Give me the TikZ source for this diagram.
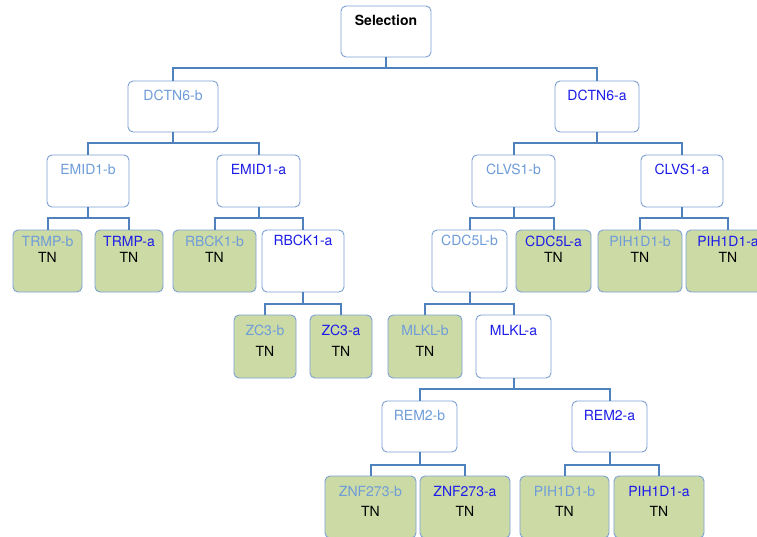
\documentclass[tikz,border=0pt]{standalone}
\usepackage{fontspec}
\setmainfont{TeX Gyre Heros}
\definecolor{linkblue}{HTML}{4F81BD}
\definecolor{edgeblue}{HTML}{7BA0D4}
\definecolor{leafgreen}{HTML}{CCDAA6}
\definecolor{bname}{HTML}{6E9CD8}
\definecolor{aname}{HTML}{1C1CE8}
\begin{document}
\begin{tikzpicture}[x=1pt,y=-1pt,
  plain/.style={draw=edgeblue, fill=white, rounded corners=5pt, line width=0.9pt, inner sep=0pt},
  leaf/.style={plain, fill=leafgreen},
  lbl/.style={anchor=base, inner sep=0pt, font=\fontsize{14}{16}\selectfont},
  bl/.style={lbl, text=bname},
  al/.style={lbl, text=aname},
  link/.style={draw=linkblue, line width=2pt}]
\useasboundingbox (0,0) rectangle (757,536);
% boxes
\node[plain, minimum width=90, minimum height=51] (sel) at (386,31.5) {};
\node[plain, minimum width=90, minimum height=51] (dctnb) at (173,106.5) {};
\node[plain, minimum width=84, minimum height=51] (dctna) at (597,106.5) {};
\node[plain, minimum width=82, minimum height=52] (emidb) at (88,181) {};
\node[plain, minimum width=83, minimum height=52] (emida) at (258.5,181) {};
\node[plain, minimum width=83, minimum height=52] (clvsb) at (513.5,181) {};
\node[plain, minimum width=82, minimum height=52] (clvsa) at (682,181) {};
\node[leaf, minimum width=69, minimum height=62] (trmpb) at (47.5,261) {};
\node[leaf, minimum width=68, minimum height=62] (trmpa) at (129,261) {};
\node[leaf, minimum width=83, minimum height=62] (rbckb) at (214.5,261) {};
\node[plain, minimum width=82, minimum height=62] (rbcka) at (303,261) {};
\node[plain, minimum width=75, minimum height=62] (cdcb) at (469.5,261) {};
\node[leaf, minimum width=75, minimum height=62] (cdca) at (553.5,261) {};
\node[leaf, minimum width=84, minimum height=62] (pihbi) at (640,261) {};
\node[leaf, minimum width=84, minimum height=62] (pihai) at (728,261) {};
\node[leaf, minimum width=62, minimum height=63] (zcb) at (265,346.5) {};
\node[leaf, minimum width=62, minimum height=63] (zca) at (341,346.5) {};
\node[leaf, minimum width=74, minimum height=63] (mlklb) at (425,346.5) {};
\node[plain, minimum width=75, minimum height=63] (mlkla) at (513.5,346.5) {};
\node[plain, minimum width=75, minimum height=51] (remb) at (419.5,426.5) {};
\node[plain, minimum width=75, minimum height=51] (rema) at (609.5,426.5) {};
\node[leaf, minimum width=91, minimum height=62] (znfb) at (370.5,507) {};
\node[leaf, minimum width=90, minimum height=62] (znfa) at (465,507) {};
\node[leaf, minimum width=89, minimum height=62] (pihbii) at (564.5,507) {};
\node[leaf, minimum width=90, minimum height=62] (pihaii) at (659,507) {};
% links
\draw[link] (sel.south) -- ++(0,11) -| (dctnb.north);
\draw[link] (sel.south) -- ++(0,11) -| (dctna.north);
\draw[link] (dctnb.south) -- ++(0,11) -| (emidb.north);
\draw[link] (dctnb.south) -- ++(0,11) -| (emida.north);
\draw[link] (dctna.south) -- ++(0,11) -| (clvsb.north);
\draw[link] (dctna.south) -- ++(0,11) -| (clvsa.north);
\draw[link] (emidb.south) -- ++(0,11) -| (trmpb.north);
\draw[link] (emidb.south) -- ++(0,11) -| (trmpa.north);
\draw[link] (emida.south) -- ++(0,11) -| (rbckb.north);
\draw[link] (emida.south) -- ++(0,11) -| (rbcka.north);
\draw[link] (clvsb.south) -- ++(0,11) -| (cdcb.north);
\draw[link] (clvsb.south) -- ++(0,11) -| (cdca.north);
\draw[link] (clvsa.south) -- ++(0,11) -| (pihbi.north);
\draw[link] (clvsa.south) -- ++(0,11) -| (pihai.north);
\draw[link] (rbcka.south) -- ++(0,12) -| (zcb.north);
\draw[link] (rbcka.south) -- ++(0,12) -| (zca.north);
\draw[link] (cdcb.south) -- ++(0,12) -| (mlklb.north);
\draw[link] (cdcb.south) -- ++(0,12) -| (mlkla.north);
\draw[link] (mlkla.south) -- ++(0,11) -| (remb.north);
\draw[link] (mlkla.south) -- ++(0,11) -| (rema.north);
\draw[link] (remb.south) -- ++(0,13) -| (znfb.north);
\draw[link] (remb.south) -- ++(0,13) -| (znfa.north);
\draw[link] (rema.south) -- ++(0,13) -| (pihbii.north);
\draw[link] (rema.south) -- ++(0,13) -| (pihaii.north);
% texts
\node[lbl, font=\fontsize{14}{16}\selectfont\bfseries] (selt) at ([yshift=-20pt]sel.north) {Selection};
\node[bl] (dctnbt) at ([yshift=-20pt]dctnb.north) {DCTN6-b};
\node[al] (dctnat) at ([yshift=-20pt]dctna.north) {DCTN6-a};
\node[bl] (emidbt) at ([yshift=-20pt]emidb.north) {EMID1-b};
\node[al] (emidat) at ([yshift=-20pt]emida.north) {EMID1-a};
\node[bl] (clvsbt) at ([yshift=-20pt]clvsb.north) {CLVS1-b};
\node[al] (clvsat) at ([yshift=-20pt]clvsa.north) {CLVS1-a};
\node[bl] (trmpbt) at ([yshift=-17pt]trmpb.north) {TRMP-b};
\node[lbl] (trmpbn) at ([yshift=-33pt]trmpb.north) {TN};
\node[al] (trmpat) at ([yshift=-17pt]trmpa.north) {TRMP-a};
\node[lbl] (trmpan) at ([yshift=-33pt]trmpa.north) {TN};
\node[bl] (rbckbt) at ([yshift=-17pt]rbckb.north) {RBCK1-b};
\node[lbl] (rbckbn) at ([yshift=-33pt]rbckb.north) {TN};
\node[al] (rbckat) at ([yshift=-16pt]rbcka.north) {RBCK1-a};
\node[bl] (cdcbt) at ([yshift=-16pt]cdcb.north) {CDC5L-b};
\node[al] (cdcat) at ([yshift=-17pt]cdca.north) {CDC5L-a};
\node[lbl] (cdcan) at ([yshift=-33pt]cdca.north) {TN};
\node[bl] (pihbit) at ([yshift=-17pt]pihbi.north) {PIH1D1-b};
\node[lbl] (pihbin) at ([yshift=-33pt]pihbi.north) {TN};
\node[al] (pihait) at ([yshift=-17pt]pihai.north) {PIH1D1-a};
\node[lbl] (pihain) at ([yshift=-33pt]pihai.north) {TN};
\node[bl] (zcbt) at ([yshift=-21pt]zcb.north) {ZC3-b};
\node[lbl] (zcbn) at ([yshift=-42pt]zcb.north) {TN};
\node[al] (zcat) at ([yshift=-21pt]zca.north) {ZC3-a};
\node[lbl] (zcan) at ([yshift=-42pt]zca.north) {TN};
\node[bl] (mlklbt) at ([yshift=-21pt]mlklb.north) {MLKL-b};
\node[lbl] (mlklbn) at ([yshift=-42pt]mlklb.north) {TN};
\node[al] (mlklat) at ([yshift=-21pt]mlkla.north) {MLKL-a};
\node[bl] (rembt) at ([yshift=-20pt]remb.north) {REM2-b};
\node[al] (remat) at ([yshift=-20pt]rema.north) {REM2-a};
\node[bl] (znfbt) at ([yshift=-21pt]znfb.north) {ZNF273-b};
\node[lbl] (znfbn) at ([yshift=-41pt]znfb.north) {TN};
\node[al] (znfat) at ([yshift=-21pt]znfa.north) {ZNF273-a};
\node[lbl] (znfan) at ([yshift=-41pt]znfa.north) {TN};
\node[bl] (pihbiit) at ([yshift=-21pt]pihbii.north) {PIH1D1-b};
\node[lbl] (pihbiin) at ([yshift=-41pt]pihbii.north) {TN};
\node[al] (pihaiit) at ([yshift=-21pt]pihaii.north) {PIH1D1-a};
\node[lbl] (pihaiin) at ([yshift=-41pt]pihaii.north) {TN};
\end{tikzpicture}
\end{document}
